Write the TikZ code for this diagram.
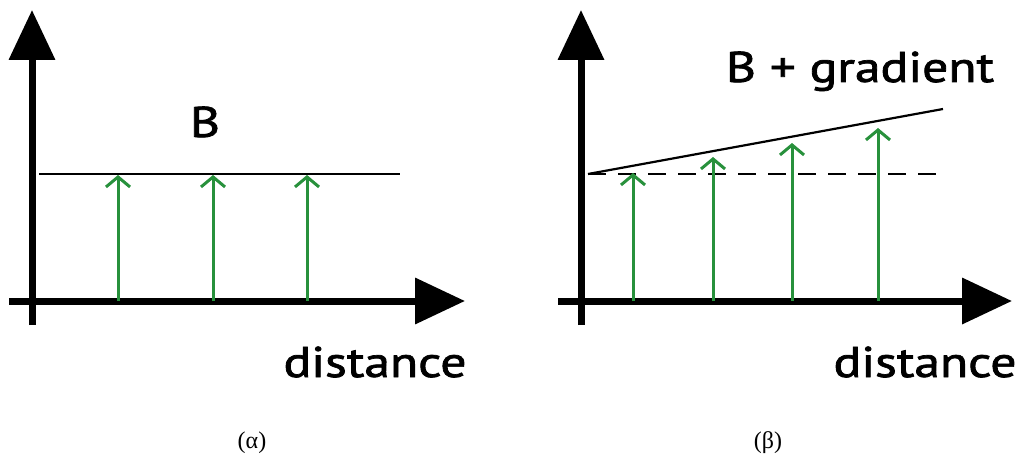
\documentclass[tikz,border=0pt]{standalone}
\usepackage{fontspec}
\setmainfont{PT Sans}
\newfontfamily\lblfont{PT Sans}[FakeBold=1.6]
\newfontfamily\capfont{Liberation Serif}
\usetikzlibrary{arrows.meta}
\definecolor{arrgreen}{RGB}{40,145,60}
\begin{document}
\begin{tikzpicture}[x=1pt,y=-1pt,
  axis/.style={line width=7pt,-{Triangle[length=50pt,width=45pt]}},
  field/.style={draw=arrgreen,line width=3pt,-{Straight Barb[length=10pt,width=24pt]}},
  lvl/.style={line width=2.2pt},
  lbl/.style={inner sep=0pt,anchor=base,xscale=1.2,font=\lblfont\fontsize{43}{43}\selectfont},
  captext/.style={inner sep=0pt,anchor=base,font=\capfont\fontsize{24}{24}\selectfont}]
\useasboundingbox (0,0) rectangle (1022,457);
% ---------- panel (a)
\coordinate (a0) at (32,325);
\coordinate (a1) at (32,10);
\coordinate (a2) at (9,301);
\coordinate (a3) at (465,301);
\draw[axis] (a0) -- (a1);
\draw[axis] (a2) -- (a3);
\coordinate (bl) at (39,174);
\coordinate (br) at (400,174);
\draw[lvl] (bl) -- (br);
\foreach \x/\n in {118/1,213/2,307/3}{
  \coordinate (ab\n) at (\x,301);
  \coordinate (at\n) at (\x,175);
  \draw[field] (ab\n) -- (at\n);
}
\node[lbl] (Blab) at (205,137) {B};
\node[lbl] (dA) at (375,377) {distance};
\node[captext] (capA) at (252,448) {(α)};
% ---------- panel (b)
\coordinate (b0) at (581,325);
\coordinate (b1) at (581,10);
\coordinate (b2) at (558,301);
\coordinate (b3) at (1012,301);
\draw[axis] (b0) -- (b1);
\draw[axis] (b2) -- (b3);
\coordinate (dl) at (588,174);
\coordinate (dr) at (940,174);
\draw[lvl,dash pattern=on 18pt off 12pt] (dl) -- (dr);
\coordinate (gl) at (588,174);
\coordinate (gr) at (943,109);
\draw[lvl] (gl) -- (gr);
\foreach \x/\y/\n in {633/173/1,713/157/2,792/143/3,878/128/4}{
  \coordinate (bb\n) at (\x,301);
  \coordinate (bt\n) at (\x,\y);
  \draw[field] (bb\n) -- (bt\n);
}
\node[lbl] (Glab) at (860,82) {B + gradient};
\node[lbl] (dB) at (925,377) {distance};
\node[captext] (capB) at (768,448) {(β)};
\end{tikzpicture}
\end{document}
